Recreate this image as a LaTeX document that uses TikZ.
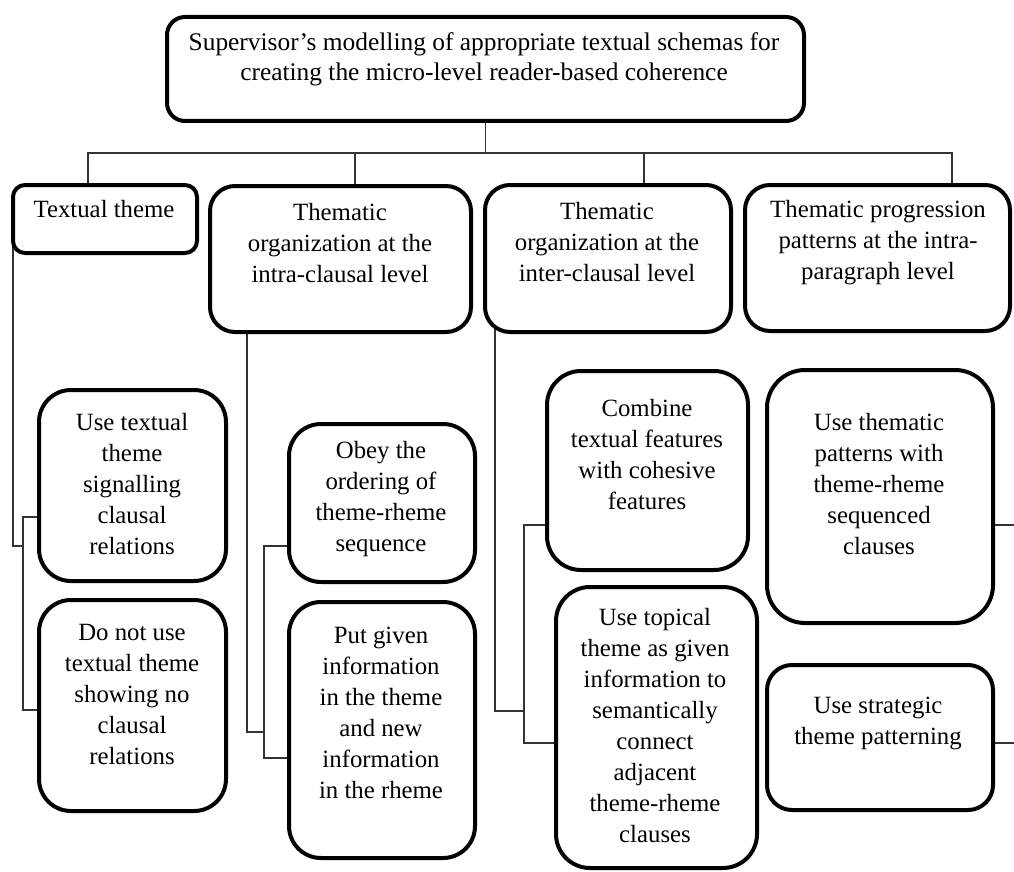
\documentclass[tikz,border=0pt]{standalone}
\usepackage{fontspec}
\setmainfont{Liberation Serif}
\usetikzlibrary{backgrounds}
\begin{document}
\begin{tikzpicture}[x=1pt,y=-1pt,
  box/.style={draw, line width=4pt, fill=white, inner sep=0pt},
  txt/.style={align=center, inner sep=0pt, font=\fontsize{24.8}{31}\selectfont},
  conn/.style={draw=black!80, line width=1.4pt}]
\useasboundingbox (0,0) rectangle (1014,872);

% root
\node[box, minimum width=637pt, minimum height=104pt, rounded corners=18pt] (top) at (485.5,69) {};
\node[txt, font=\fontsize{25.4}{30.2}\selectfont] (top-t) at (484,59) {Supervisor's modelling of appropriate textual schemas for\\creating the micro-level reader-based coherence};

% first level
\node[box, minimum width=184pt, minimum height=68pt, rounded corners=12pt] (tt) at (105,219) {};
\node[txt] (tt-t) at (104,209) {Textual theme};

\node[box, minimum width=261pt, minimum height=146pt, rounded corners=25pt] (b2) at (340.5,259) {};
\node[txt] (b2-t) at (340,243) {Thematic\\organization at the\\intra-clausal level};

\node[box, minimum width=246pt, minimum height=147pt, rounded corners=25pt] (b3) at (608,258.5) {};
\node[txt] (b3-t) at (607,242) {Thematic\\organization at the\\inter-clausal level};

\node[box, minimum width=265pt, minimum height=146pt, rounded corners=25pt] (b4) at (877.5,258) {};
\node[txt] (b4-t) at (878,243) {Thematic progression\\patterns at the intra-\\paragraph level};

% second level
\node[box, minimum width=187pt, minimum height=191pt, rounded corners=32pt] (c1) at (132.5,485.5) {};
\node[txt] (c1-t) at (132,484) {Use textual\\theme\\signalling\\clausal\\relations};

\node[box, minimum width=187pt, minimum height=211pt, rounded corners=32pt] (c2) at (132.5,705.5) {};
\node[txt] (c2-t) at (132,694) {Do not use\\textual theme\\showing no\\clausal\\relations};

\node[box, minimum width=186pt, minimum height=158pt, rounded corners=32pt] (d1) at (382,503) {};
\node[txt] (d1-t) at (381,499) {Obey the\\ordering of\\theme-rheme\\sequence};

\node[box, minimum width=186pt, minimum height=256pt, rounded corners=32pt] (d2) at (382,730) {};
\node[txt] (d2-t) at (381,713) {Put given\\information\\in the theme\\and new\\information\\in the rheme};

\node[box, minimum width=201pt, minimum height=199pt, rounded corners=34pt] (e1) at (647.5,470.5) {};
\node[txt] (e1-t) at (647,455) {Combine\\textual features\\with cohesive\\features};

\node[box, minimum width=201pt, minimum height=281pt, rounded corners=34pt] (e2) at (656.5,727.5) {};
\node[txt] (e2-t) at (655,726) {Use topical\\theme as given\\information to\\semantically\\connect\\adjacent\\theme-rheme\\clauses};

\node[box, minimum width=226pt, minimum height=253pt, rounded corners=38pt] (f1) at (880,496.5) {};
\node[txt] (f1-t) at (879,484) {Use thematic\\patterns with\\theme-rheme\\sequenced\\clauses};

\node[box, minimum width=226pt, minimum height=145pt, rounded corners=25pt] (f2) at (880,737.5) {};
\node[txt] (f2-t) at (878,723) {Use strategic\\theme patterning};

% junction points of the connectors
\coordinate (hub) at (485.5,153);
\coordinate (tj) at (23,546);
\coordinate (ij) at (264,732);
\coordinate (ej) at (524,711);
\coordinate (r1) at (1020,525);
\coordinate (r2) at (1020,743);

\begin{scope}[on background layer]
  % root to first level
  \foreach \n/\xd in {tt/88, b2/355, b3/644, b4/952}
    \draw[conn] (top.center) -- (hub) -| (\n.center -| \xd,0);
  % textual theme branch
  \draw[conn] (tt.center -| 13,0) |- (tj);
  \draw[conn] (c1.center |- 0,517) -| (tj) |- (c2.center |- 0,710);
  % intra-clausal branch
  \draw[conn] (b2.center -| 247,0) |- (ij);
  \draw[conn] (d1.center |- 0,546) -| (ij) |- (d2.center |- 0,758);
  % inter-clausal branch
  \draw[conn] (b3.center -| 495,0) |- (ej);
  \draw[conn] (e1.center |- 0,525) -| (ej) |- (e2.center |- 0,743);
  % intra-paragraph branch
  \draw[conn] (f1.center |- 0,525) -- (r1);
  \draw[conn] (f2.center |- 0,743) -- (r2);
\end{scope}
\end{tikzpicture}
\end{document}
